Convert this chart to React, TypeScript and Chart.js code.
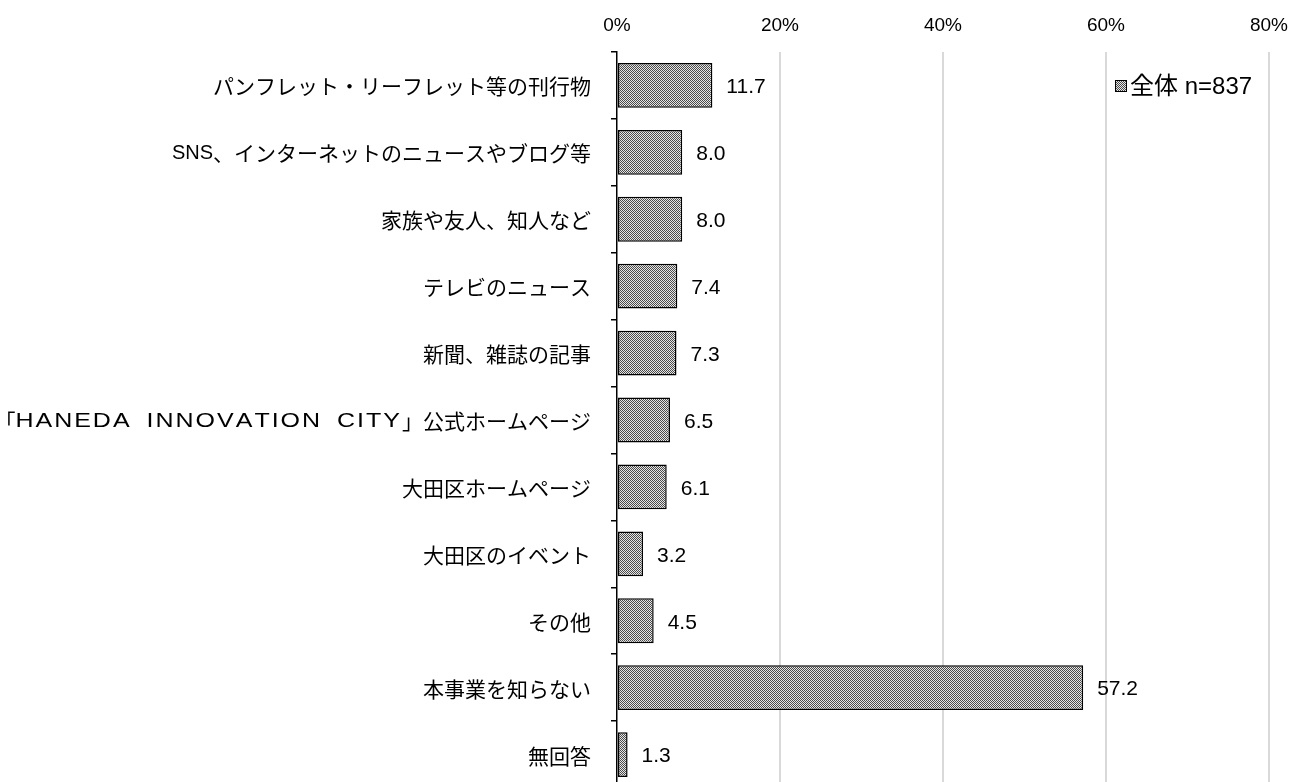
import React, { useEffect, useRef } from "react";
import { Chart, registerables } from "chart.js";

Chart.register(...registerables);

const categories = [
  "パンフレット・リーフレット等の刊行物",
  "SNS、インターネットのニュースやブログ等",
  "家族や友人、知人など",
  "テレビのニュース",
  "新聞、雑誌の記事",
  "「HANEDA INNOVATION CITY」公式ホームページ",
  "大田区ホームページ",
  "大田区のイベント",
  "その他",
  "本事業を知らない",
  "無回答",
];
const values = [11.7, 8.0, 8.0, 7.4, 7.3, 6.5, 6.1, 3.2, 4.5, 57.2, 1.3];
const seriesLabel = "全体 n=837";
const xTicks = [0, 20, 40, 60, 80];

const LATIN = '"Liberation Sans", Arial, sans-serif';
const CJK = '"Noto Sans CJK JP", sans-serif';
const MIXED = '"Liberation Sans", "Noto Sans CJK JP", sans-serif';

function makePattern(): CanvasPattern | string {
  const c = document.createElement("canvas");
  c.width = 2;
  c.height = 2;
  const g = c.getContext("2d");
  if (!g) return "#999";
  g.fillStyle = "#e6e6e6";
  g.fillRect(0, 0, 2, 2);
  g.fillStyle = "#4a4a4a";
  g.fillRect(0, 0, 1, 1);
  g.fillRect(1, 1, 1, 1);
  const p = g.createPattern(c, "repeat");
  return p || "#999";
}

function drawMixedRight(ctx: CanvasRenderingContext2D, text: string, right: number, y: number) {
  const runs = text.match(/[\x20-\x7E]+|[^\x20-\x7E]+/g) || [];
  const charAdvance = (ch: string, stretch: number, spacing: number) =>
    ctx.measureText(ch).width * stretch + spacing + (ch === " " ? 6 : 0);
  const parts = runs.map((r) => {
    const latin = /^[\x20-\x7E]+$/.test(r);
    const font = latin ? `20px ${LATIN}` : `21px ${CJK}`;
    const wide = latin && r.length > 5;
    const stretch = wide ? 1.25 : 1;
    const spacing = wide ? 2 : 0;
    ctx.font = font;
    let w = 0;
    if (wide) {
      for (const ch of r) w += charAdvance(ch, stretch, spacing);
    } else {
      w = ctx.measureText(r).width;
    }
    return { r, font, stretch, spacing, wide, w };
  });
  const total = parts.reduce((s, p) => s + p.w, 0);
  let x = right - total;
  for (const p of parts) {
    ctx.font = p.font;
    if (p.wide) {
      for (const ch of p.r) {
        ctx.save();
        ctx.translate(x, y);
        ctx.scale(p.stretch, 1);
        ctx.fillText(ch, 0, 0);
        ctx.restore();
        x += charAdvance(ch, p.stretch, p.spacing);
      }
    } else {
      ctx.fillText(p.r, x, y);
      x += p.w;
    }
  }
}

export default function App() {
  const ref = useRef<HTMLCanvasElement | null>(null);

  useEffect(() => {
    if (!ref.current) return;
    const pattern = makePattern();

    const labelsPlugin = {
      id: "customLabels",
      afterDatasetsDraw(chart: any) {
        const ctx = chart.ctx as CanvasRenderingContext2D;
        const meta = chart.getDatasetMeta(0);
        const yScale = chart.scales.y;
        ctx.save();
        ctx.fillStyle = "#000";
        ctx.textBaseline = "middle";
        ctx.textAlign = "left";
        categories.forEach((c, i) => {
          const y = yScale.getPixelForValue(i);
          drawMixedRight(ctx, c, yScale.right - 26, y + 1);
        });
        ctx.font = `21px ${LATIN}`;
        meta.data.forEach((bar: any, i: number) => {
          ctx.fillText(values[i].toFixed(1), bar.x + 14, bar.y + 2);
        });
        ctx.restore();
      },
    };

    const legendPlugin = {
      id: "customLegend",
      afterDraw(chart: any) {
        const ctx = chart.ctx;
        ctx.save();
        const x = 1115;
        const y = 86;
        ctx.fillStyle = pattern as any;
        ctx.fillRect(x, y - 6, 12, 12);
        ctx.strokeStyle = "#000";
        ctx.lineWidth = 1;
        ctx.strokeRect(x + 0.5, y - 5.5, 11, 11);
        ctx.fillStyle = "#000";
        ctx.font = `24px ${MIXED}`;
        ctx.textBaseline = "middle";
        ctx.textAlign = "left";
        ctx.fillText(seriesLabel, x + 15, y + 1);
        ctx.restore();
      },
    };

    const chart = new Chart(ref.current, {
      type: "bar",
      data: {
        labels: categories,
        datasets: [
          {
            label: seriesLabel,
            data: values,
            backgroundColor: pattern as any,
            borderColor: "#000",
            borderWidth: 1.5,
            borderSkipped: false,
            barPercentage: 0.67,
            categoryPercentage: 1,
          },
        ],
      },
      options: {
        indexAxis: "y",
        animation: false,
        responsive: false,
        maintainAspectRatio: false,
        layout: { padding: { left: 0, right: 33, top: 0, bottom: 0 } },
        plugins: {
          legend: { display: false },
          tooltip: { enabled: false },
        },
        scales: {
          x: {
            position: "top",
            min: 0,
            max: 80,
            afterBuildTicks(scale: any) {
              scale.ticks = xTicks.map((v) => ({ value: v }));
            },
            afterFit(scale: any) {
              scale.height = 52;
            },
            ticks: {
              callback: (v: any) => `${v}%`,
              font: { family: LATIN, size: 19 },
              color: "#000",
              padding: 15,
            },
            grid: {
              color: (ctx: any) => (ctx.tick && ctx.tick.value === 0 ? "rgba(0,0,0,0)" : "#d9d9d9"),
              lineWidth: 2,
              drawTicks: false,
            },
            border: { display: false },
          },
          y: {
            afterFit(scale: any) {
              scale.width = 617;
            },
            ticks: {
              display: false,
            },
            grid: {
              offset: true,
              drawOnChartArea: false,
              drawTicks: true,
              tickLength: 6,
              color: "#000",
              lineWidth: 1.5,
            },
            border: { display: true, color: "#000", width: 1.5 },
          },
        },
      },
      plugins: [labelsPlugin, legendPlugin],
    });

    return () => chart.destroy();
  }, []);

  return (
    <div style={{ position: "absolute", left: 0, top: 0, width: 1303, height: 788 }}>
      <canvas ref={ref} width={1303} height={788} style={{ display: "block" }} />
    </div>
  );
}
